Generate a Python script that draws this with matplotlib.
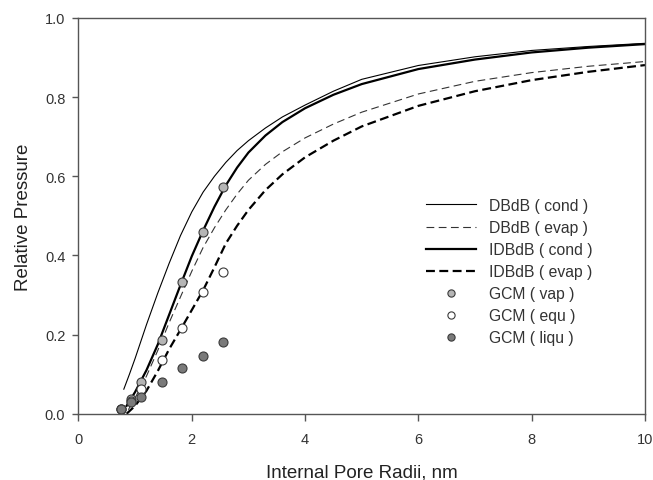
import numpy as np
import matplotlib.pyplot as plt

plt.rcParams['font.family'] = ['Liberation Sans', 'DejaVu Sans']

# model curves: pore radius (nm) vs relative pressure
r_dbdb_cond = [0.80, 0.9, 1.0, 1.2, 1.4, 1.6, 1.8, 2.0, 2.2, 2.4, 2.6, 2.8, 3.0, 3.3, 3.6, 4.0, 4.5, 5.0, 6.0, 7.0, 8.0, 9.0, 10.0]
p_dbdb_cond = [0.062, 0.10, 0.14, 0.225, 0.305, 0.38, 0.45, 0.51, 0.56, 0.60, 0.635, 0.665, 0.69, 0.722, 0.75, 0.78, 0.815, 0.845, 0.88, 0.902, 0.918, 0.928, 0.936]

r_dbdb_evap = [0.88, 1.0, 1.2, 1.4, 1.6, 1.8, 2.0, 2.2, 2.4, 2.6, 2.8, 3.0, 3.3, 3.6, 4.0, 4.5, 5.0, 6.0, 7.0, 8.0, 9.0, 10.0]
p_dbdb_evap = [0.01, 0.04, 0.095, 0.16, 0.23, 0.295, 0.36, 0.42, 0.47, 0.515, 0.555, 0.59, 0.63, 0.662, 0.697, 0.732, 0.762, 0.808, 0.84, 0.862, 0.878, 0.890]

r_idbdb_cond = [0.85, 1.0, 1.2, 1.4, 1.6, 1.8, 2.0, 2.2, 2.4, 2.6, 2.8, 3.0, 3.3, 3.6, 4.0, 4.5, 5.0, 6.0, 7.0, 8.0, 9.0, 10.0]
p_idbdb_cond = [0.02, 0.055, 0.11, 0.175, 0.25, 0.325, 0.398, 0.463, 0.523, 0.577, 0.622, 0.66, 0.703, 0.737, 0.772, 0.806, 0.833, 0.871, 0.895, 0.913, 0.925, 0.934]

r_idbdb_evap = [0.85, 1.0, 1.2, 1.4, 1.6, 1.8, 2.0, 2.2, 2.4, 2.6, 2.8, 3.0, 3.3, 3.6, 4.0, 4.5, 5.0, 6.0, 7.0, 8.0, 9.0, 10.0]
p_idbdb_evap = [0.0, 0.02, 0.058, 0.108, 0.163, 0.212, 0.262, 0.312, 0.37, 0.43, 0.475, 0.515, 0.565, 0.605, 0.648, 0.69, 0.726, 0.778, 0.815, 0.843, 0.864, 0.881]

# GCM simulation points
r_gcm = [0.75, 0.92, 1.10, 1.47, 1.82, 2.19, 2.55]
p_vap = [0.012, 0.036, 0.079, 0.187, 0.332, 0.458, 0.572]
p_equ = [0.011, 0.032, 0.062, 0.136, 0.216, 0.308, 0.357]
p_liqu = [0.011, 0.029, 0.041, 0.079, 0.115, 0.145, 0.182]

fig = plt.figure(figsize=(6.53, 4.81), dpi=100)
ax = fig.add_axes([0.1202, 0.1378, 0.8675, 0.8227])

ax.plot(r_dbdb_cond, p_dbdb_cond, color='black', lw=0.8, label='DBdB ( cond )')
ax.plot(r_dbdb_evap, p_dbdb_evap, color='#333333', lw=0.8, dashes=(7, 4), label='DBdB ( evap )')
ax.plot(r_idbdb_cond, p_idbdb_cond, color='black', lw=1.6, label='IDBdB ( cond )')
ax.plot(r_idbdb_evap, p_idbdb_evap, color='black', lw=1.6, dashes=(4, 2), label='IDBdB ( evap )')

mk = dict(ls='none', marker='o', ms=6.5, mec='#3a3a3a', mew=0.8)
ax.plot(r_gcm, p_vap, mfc='#b5b5b5', label='GCM ( vap )', **mk)
ax.plot(r_gcm, p_equ, mfc='white', label='GCM ( equ )', **mk)
ax.plot(r_gcm, p_liqu, mfc='#7a7a7a', label='GCM ( liqu )', **mk)

ax.set_xlim(0, 10)
ax.set_ylim(0, 1.0)
ax.set_xticks([0, 2, 4, 6, 8, 10])
ax.set_yticks([0.0, 0.2, 0.4, 0.6, 0.8, 1.0])
ax.set_yticklabels(['0.0', '0.2', '0.4', '0.6', '0.8', '1.0'])
ax.tick_params(axis='x', direction='out', length=5, width=1, color='#555555', pad=8,
               labelsize=10.5, labelcolor='#333333')
ax.tick_params(axis='y', direction='out', length=4.5, width=1, color='#555555', pad=5,
               labelsize=10.5, labelcolor='#333333')
for s in ax.spines.values():
    s.set_color('#555555')
    s.set_linewidth(1)

ax.set_xlabel('Internal Pore Radii, nm', fontsize=13.5, color='#222222', labelpad=13)
ax.set_ylabel('Relative Pressure', fontsize=13.5, color='#222222', labelpad=9)

leg = ax.legend(loc='upper left', bbox_to_anchor=(0.6, 0.565), frameon=False, fontsize=11.3,
                handlelength=3.2, handletextpad=0.8, labelspacing=0.45, markerscale=0.8,
                borderpad=0, labelcolor='#333333')

fig.savefig('out.png', dpi=100)
